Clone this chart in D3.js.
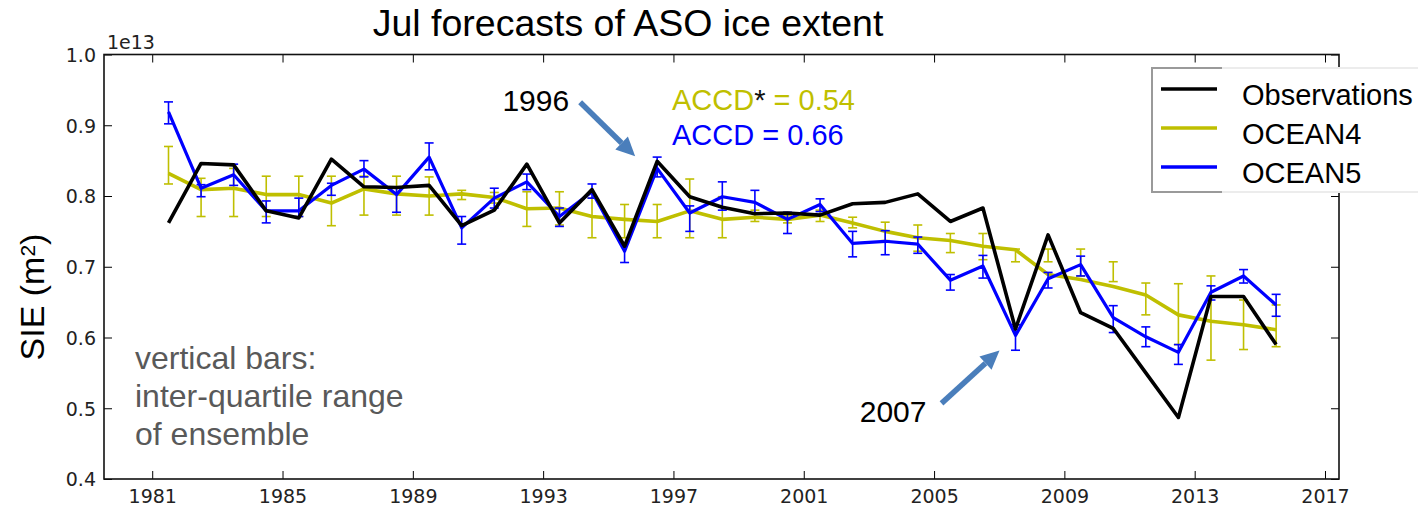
<!DOCTYPE html>
<html>
<head>
<meta charset="utf-8">
<script src="https://cdn.jsdelivr.net/npm/d3@7"></script>
<style>
  body { margin: 0; background: #fff; }
  svg { display: block; }
</style>
</head>
<body>
<svg id="chart" width="1418" height="511"></svg>
<script>
// September-season (ASO) sea-ice extent, units of 1e13 m^2, forecasts started in July.
const years = [1981, 1982, 1983, 1984, 1985, 1986, 1987, 1988, 1989, 1990,
               1991, 1992, 1993, 1994, 1995, 1996, 1997, 1998, 1999, 2000,
               2001, 2002, 2003, 2004, 2005, 2006, 2007, 2008, 2009, 2010,
               2011, 2012, 2013, 2014, 2015];

const observations = [0.762, 0.846, 0.844, 0.779, 0.769, 0.852, 0.813, 0.812, 0.815, 0.758,
                      0.780, 0.845, 0.762, 0.809, 0.729, 0.849, 0.799, 0.784, 0.775, 0.776,
                      0.773, 0.789, 0.791, 0.803, 0.764, 0.783, 0.612, 0.745, 0.635, 0.613,
                      0.550, 0.487, 0.658, 0.658, 0.590];

const ocean4 = [0.832, 0.809, 0.811, 0.802, 0.802, 0.790, 0.810, 0.803, 0.800, 0.803,
                0.798, 0.782, 0.783, 0.771, 0.767, 0.764, 0.779, 0.767, 0.770, 0.767,
                0.773, 0.762, 0.750, 0.741, 0.737, 0.729, 0.724, 0.689, 0.682, 0.672,
                0.660, 0.632, 0.623, 0.618, 0.611];
const ocean4Q1 = [0.817, 0.771, 0.771, 0.771, 0.771, 0.758, 0.773, 0.773, 0.773, 0.795,
                  0.790, 0.757, 0.759, 0.741, 0.741, 0.741, 0.741, 0.741, 0.764, 0.762,
                  0.764, 0.755, 0.737, 0.722, 0.720, 0.710, 0.707, 0.707, 0.687, 0.679,
                  0.632, 0.590, 0.568, 0.583, 0.587];
const ocean4Q3 = [0.870, 0.825, 0.839, 0.828, 0.828, 0.828, 0.828, 0.828, 0.827, 0.808,
                  0.805, 0.806, 0.806, 0.797, 0.788, 0.788, 0.824, 0.799, 0.780, 0.772,
                  0.780, 0.770, 0.763, 0.759, 0.747, 0.747, 0.725, 0.725, 0.725, 0.707,
                  0.677, 0.676, 0.687, 0.653, 0.646];

const ocean5 = [0.919, 0.811, 0.830, 0.779, 0.779, 0.815, 0.838, 0.802, 0.855, 0.755,
                0.797, 0.820, 0.771, 0.806, 0.722, 0.839, 0.776, 0.799, 0.791, 0.767,
                0.788, 0.733, 0.736, 0.732, 0.681, 0.701, 0.603, 0.683, 0.703, 0.628,
                0.601, 0.579, 0.664, 0.687, 0.646];
const ocean5Q1 = [0.902, 0.799, 0.815, 0.762, 0.771, 0.801, 0.827, 0.777, 0.837, 0.732,
                  0.783, 0.809, 0.757, 0.797, 0.706, 0.827, 0.750, 0.780, 0.776, 0.747,
                  0.778, 0.714, 0.717, 0.719, 0.667, 0.684, 0.582, 0.670, 0.687, 0.607,
                  0.587, 0.562, 0.653, 0.677, 0.630];
const ocean5Q3 = [0.933, 0.816, 0.845, 0.793, 0.797, 0.818, 0.850, 0.813, 0.875, 0.771,
                  0.811, 0.831, 0.783, 0.817, 0.733, 0.855, 0.786, 0.820, 0.808, 0.777,
                  0.796, 0.750, 0.751, 0.742, 0.689, 0.716, 0.618, 0.692, 0.715, 0.645,
                  0.615, 0.590, 0.673, 0.696, 0.661];

const xTicks = [1981, 1985, 1989, 1993, 1997, 2001, 2005, 2009, 2013, 2017];
const yTicks = [0.4, 0.5, 0.6, 0.7, 0.8, 0.9, 1.0];

const seriesNames = ["Observations", "OCEAN4", "OCEAN5"];
const seriesColors = ["#000000", "#bfbf00", "#0000ff"];

// ---------------------------------------------------------------------------
const svg = d3.select("#chart");
const tickFont = "'DejaVu Sans', sans-serif";
const textFont = "'Liberation Sans', Arial, sans-serif";

const plot = { left: 104, right: 1339, top: 54.5, bottom: 479 };

// seasonal values sit at mid-year
const x = d3.scaleLinear().domain([1979.52, 2017.43]).range([plot.left, plot.right]);
const y = d3.scaleLinear().domain([0.4, 1.0]).range([plot.bottom, plot.top]);
const xMid = yr => x(yr + 0.5);

// axes: ticks point inward on all four sides
const axisStyle = g => {
  g.select(".domain").remove();
  g.selectAll(".tick line").attr("stroke", "#000").attr("stroke-width", 1);
  g.selectAll(".tick text").attr("fill", "#222").style("font-family", tickFont).style("font-size", "19px");
};

svg.append("g").attr("transform", `translate(${plot.left},0)`)
  .call(d3.axisLeft(y).tickValues(yTicks).tickFormat(d3.format(".1f")).tickSizeInner(-8).tickSizeOuter(0).tickPadding(8))
  .call(axisStyle)
  .selectAll(".tick text").attr("dy", "0.36em");

svg.append("g").attr("transform", `translate(${plot.right},0)`)
  .call(d3.axisRight(y).tickValues(yTicks).tickFormat("").tickSizeInner(-8).tickSizeOuter(0))
  .call(axisStyle);

svg.append("g").attr("transform", `translate(0,${plot.bottom})`)
  .call(d3.axisBottom(x).tickValues(xTicks).tickFormat(d3.format("d")).tickSizeInner(-8).tickSizeOuter(0).tickPadding(11))
  .call(axisStyle)
  .selectAll(".tick text").attr("dy", "0.71em");

svg.append("g").attr("transform", `translate(0,${plot.top})`)
  .call(d3.axisTop(x).tickValues(xTicks).tickFormat("").tickSizeInner(-8).tickSizeOuter(0))
  .call(axisStyle);

svg.append("rect")
  .attr("x", plot.left).attr("y", plot.top)
  .attr("width", plot.right - plot.left).attr("height", plot.bottom - plot.top)
  .attr("fill", "none").attr("stroke", "#111").attr("stroke-width", 1.6);

// offset label of the y axis
svg.append("text").attr("x", plot.left + 3).attr("y", 49)
  .style("font-family", tickFont).style("font-size", "19px").attr("fill", "#222")
  .text("1e13");

// ---------------------------------------------------------------------------
// forecast series with inter-quartile error bars
function drawErrorBars(values, q1, q3, color) {
  const g = svg.append("g").attr("stroke", color).attr("stroke-width", 1.6).attr("fill", "none");
  years.forEach((yr, i) => {
    const cx = xMid(yr);
    g.append("line").attr("x1", cx).attr("x2", cx).attr("y1", y(q1[i])).attr("y2", y(q3[i]));
    g.append("line").attr("x1", cx - 4.5).attr("x2", cx + 4.5).attr("y1", y(q1[i])).attr("y2", y(q1[i]));
    g.append("line").attr("x1", cx - 4.5).attr("x2", cx + 4.5).attr("y1", y(q3[i])).attr("y2", y(q3[i]));
  });
}

function drawLine(values, color, width) {
  const line = d3.line().x((d, i) => xMid(years[i])).y(d => y(d));
  svg.append("path").datum(values)
    .attr("d", line).attr("fill", "none")
    .attr("stroke", color).attr("stroke-width", width)
    .attr("stroke-linejoin", "round").attr("stroke-linecap", "butt");
}

drawErrorBars(ocean4, ocean4Q1, ocean4Q3, seriesColors[1]);
drawLine(ocean4, seriesColors[1], 3.6);
drawErrorBars(ocean5, ocean5Q1, ocean5Q3, seriesColors[2]);
drawLine(ocean5, seriesColors[2], 3.2);
drawLine(observations, seriesColors[0], 3.6);

// ---------------------------------------------------------------------------
// legend (white box that hides the right spine behind it)
const legend = svg.append("g");
legend.append("rect").attr("x", 1152).attr("y", 68).attr("width", 270).attr("height", 124)
  .attr("fill", "#fff").attr("stroke", "none");
legend.append("line").attr("x1", 1152).attr("x2", 1152).attr("y1", 67).attr("y2", 193)
  .attr("stroke", "#9a9a9a").attr("stroke-width", 2);
[68, 192].forEach(yy => {
  legend.append("line").attr("x1", 1151).attr("x2", 1222).attr("y1", yy).attr("y2", yy)
    .attr("stroke", "#9a9a9a").attr("stroke-width", 2);
  legend.append("line").attr("x1", 1222).attr("x2", 1418).attr("y1", yy).attr("y2", yy)
    .attr("stroke", "#ececec").attr("stroke-width", 2);
});
seriesNames.forEach((name, i) => {
  const yy = 89 + i * 39;
  legend.append("line").attr("x1", 1161).attr("x2", 1217).attr("y1", yy).attr("y2", yy)
    .attr("stroke", seriesColors[i]).attr("stroke-width", 3.4);
  legend.append("text").attr("x", 1242).attr("y", yy + 16)
    .style("font-family", textFont).style("font-size", "29px").attr("fill", "#000")
    .text(name);
});

// ---------------------------------------------------------------------------
// titles and annotations
svg.append("text").attr("x", 628).attr("y", 36).attr("text-anchor", "middle")
  .style("font-family", textFont).style("font-size", "37.5px").attr("fill", "#000")
  .text("Jul forecasts of ASO ice extent");

const yLabel = svg.append("text")
  .attr("transform", "translate(44,297) rotate(-90)").attr("text-anchor", "middle")
  .style("font-family", textFont).style("font-size", "34px").attr("fill", "#000");
yLabel.append("tspan").text("SIE (m");
yLabel.append("tspan").attr("dy", "-0.45em").style("font-size", "21px").text("2");
yLabel.append("tspan").attr("dy", "0.28em").text(")");

const note = svg.append("g").style("font-family", textFont).style("font-size", "32px").attr("fill", "#595959");
["vertical bars:", "inter-quartile range", "of ensemble"].forEach((t, i) => {
  note.append("text").attr("x", 135).attr("y", 369 + i * 38).text(t);
});

const accd4 = svg.append("text").attr("x", 672).attr("y", 110)
  .style("font-family", textFont).style("font-size", "29px").attr("fill", "#bfbf00");
accd4.append("tspan").text("ACCD");
accd4.append("tspan").attr("fill", "#111").text("*");
accd4.append("tspan").text(" = 0.54");
svg.append("text").attr("x", 672).attr("y", 145)
  .style("font-family", textFont).style("font-size", "29px").attr("fill", "#0000ff")
  .text("ACCD = 0.66");

// arrows anchored to the highlighted years
function arrow(tx, ty, sx, sy) {
  const ang = Math.atan2(ty - sy, tx - sx);
  const headLen = 19, headHalf = 9;
  const bx = tx - headLen * Math.cos(ang), by = ty - headLen * Math.sin(ang);
  const px = -Math.sin(ang), py = Math.cos(ang);
  const g = svg.append("g");
  g.append("line").attr("x1", sx).attr("y1", sy).attr("x2", bx).attr("y2", by)
    .attr("stroke", "#4a7ebb").attr("stroke-width", 5.5);
  g.append("path")
    .attr("d", `M${tx},${ty}L${bx + px * headHalf},${by + py * headHalf}L${bx - px * headHalf},${by - py * headHalf}Z`)
    .attr("fill", "#4a7ebb");
}

const i1996 = years.indexOf(1996), i2007 = years.indexOf(2007);
const t96x = xMid(1996) - 22, t96y = y(observations[i1996]) - 5;
arrow(t96x, t96y, t96x - 55, t96y - 54);
svg.append("text").attr("x", t96x - 66).attr("y", t96y - 45).attr("text-anchor", "end")
  .style("font-family", textFont).style("font-size", "30px").attr("fill", "#000").text("1996");

const t07x = xMid(2007) - 16, t07y = y(ocean5[i2007]) + 15;
arrow(t07x, t07y, t07x - 58, t07y + 53);
svg.append("text").attr("x", t07x - 73).attr("y", t07y + 72).attr("text-anchor", "end")
  .style("font-family", textFont).style("font-size", "30px").attr("fill", "#000").text("2007");
</script>
</body>
</html>
